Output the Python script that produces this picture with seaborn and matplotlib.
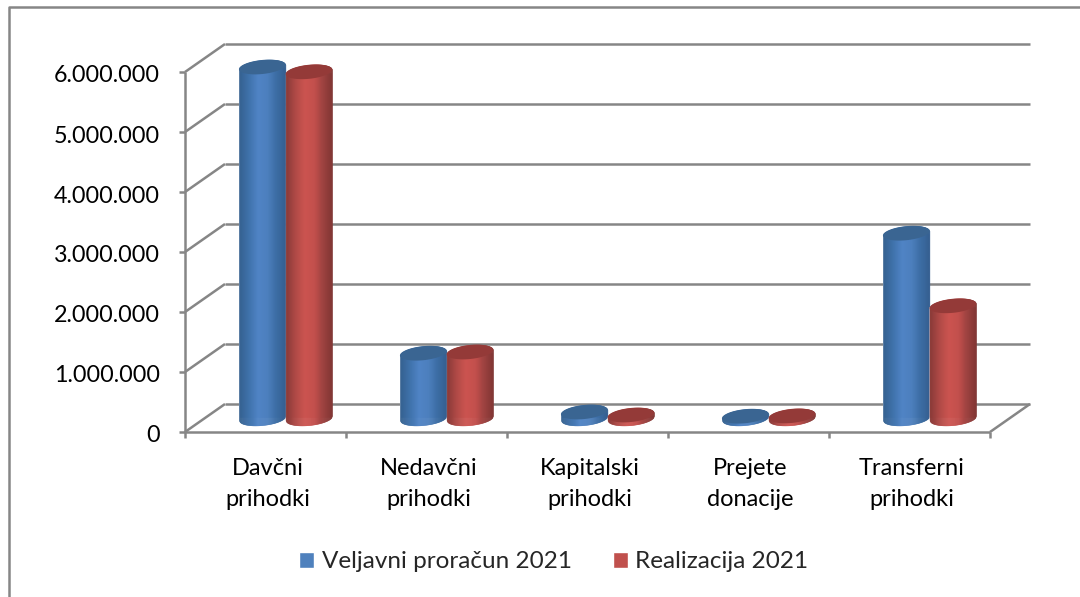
import numpy as np
import pandas as pd
import seaborn as sns
import matplotlib.pyplot as plt
from matplotlib.colors import LinearSegmentedColormap
from matplotlib.lines import Line2D
from matplotlib.patches import Polygon
from matplotlib.transforms import Affine2D, IdentityTransform

# Excel style 3D cylinder chart, faked with offsets on a normal barplot

categories = ["Davčni\nprihodki", "Nedavčni\nprihodki", "Kapitalski\nprihodki",
              "Prejete\ndonacije", "Transferni\nprihodki"]
proracun = [5850000, 1080000, 100000, 30000, 3080000]
realizacija = [5770000, 1100000, 50000, 35000, 1870000]
series = ["Veljavni proračun 2021", "Realizacija 2021"]
y_ticks = [0, 1000000, 2000000, 3000000, 4000000, 5000000, 6000000]
y_labels = ["0", "1.000.000", "2.000.000", "3.000.000", "4.000.000", "5.000.000", "6.000.000"]

df = pd.DataFrame({
    "kategorija": categories * 2,
    "serija": [series[0]] * 5 + [series[1]] * 5,
    "vrednost": proracun + realizacija,
})

W, H = 1080, 597
GRID = "#868686"
DEPTH_X, DEPTH_Y = 20, 14

sns.set_theme(style="white")
plt.rcParams["font.family"] = ["Lato", "DejaVu Sans"]

fig = plt.figure(figsize=(W / 100, H / 100), dpi=100)
# axes = middle plane of the 3D box, the cylinders stand on it
ax = fig.add_axes([205 / W, (H - 418) / H, 805 / W, 360 / H])
sns.barplot(data=df, x="kategorija", y="vrednost", hue="serija", palette=["#4f81bd", "#c0504d"],
            width=0.58, gap=0, saturation=1, ax=ax)
ax.set_xlim(-0.5, 4.5)
ax.set_ylim(0, 6000000)
ax.set_axis_off()
ax.patch.set_visible(False)

back = ax.transData + Affine2D().translate(DEPTH_X, DEPTH_Y)
front = ax.transData + Affine2D().translate(-DEPTH_X, -DEPTH_Y)

line = dict(color=GRID, lw=1.8, clip_on=False, zorder=1, solid_capstyle="butt")
for v, lab in zip(y_ticks, y_labels):
    ax.plot([-0.5, 4.5], [v, v], transform=back, **line)
    # side wall diagonal
    fx, fy = front.transform((-0.5, v))
    bx, by = back.transform((-0.5, v))
    ax.plot([fx, bx], [fy, by], transform=IdentityTransform(), **line)
    ax.plot([fx - 6, fx], [fy, fy], transform=IdentityTransform(), **line)
    ax.text(fx - 25, fy - 4, lab, transform=IdentityTransform(), ha="right",
            va="center", fontsize=16.8, color="black")

# front axis and floor
ax.plot([-0.5, -0.5], [0, 6000000], transform=front, **line)
ax.plot([-0.5, 4.5], [0, 0], transform=front, **line)
fx, fy = front.transform((4.5, 0))
bx, by = back.transform((4.5, 0))
ax.plot([fx, bx], [fy, by], transform=IdentityTransform(), **line)
for i in range(6):
    fx, fy = front.transform((i - 0.5, 0))
    ax.plot([fx, fx], [fy, fy - 6], transform=IdentityTransform(), **line)
for i, c in enumerate(categories):
    fx, fy = front.transform((i, 0))
    ax.text(fx + 2, fy - 26, c, transform=IdentityTransform(), ha="center", va="top",
            fontsize=17, color="black", linespacing=1.6)

blue_cmap = LinearSegmentedColormap.from_list("b", ["#34608f", "#3f72ab", "#5084c6", "#4c7fbd", "#3c6da4", "#355f90"])
red_cmap = LinearSegmentedColormap.from_list("r", ["#8a3a38", "#b04a47", "#cc5450", "#c4504d", "#9c4240", "#7d3432"])


def ring(cx, cy, w, tilt=6, ratio=0.3):
    t = np.radians(tilt)
    a = np.linspace(0, 2 * np.pi, 81)
    ex, ey = w / 2 * np.cos(a), w / 2 * ratio * np.sin(a)
    return np.column_stack([cx + ex * np.cos(t) - ey * np.sin(t), cy + ex * np.sin(t) + ey * np.cos(t)])


z = 3
blue_bars = list(ax.containers[0])
bars = [b for cont in ax.containers for b in cont]
bars.sort(key=lambda b: b.get_x())
for b in bars:
    is_blue = b in blue_bars
    cmap = blue_cmap if is_blue else red_cmap
    top_color = "#3a6592" if is_blue else "#943a38"
    (x0, y0) = ax.transData.transform((b.get_x(), 0))
    (x1, y1) = ax.transData.transform((b.get_x() + b.get_width(), b.get_height()))
    cx = (x0 + x1) / 2
    w = x1 - x0
    top = ring(cx, y1, w)
    base = ring(cx, y0, w)
    # the rectangle from seaborn only keeps the shape of the side of the cylinder
    b.set_clip_path(Polygon(np.vstack([top[:41], base[40:]]), closed=True, transform=IdentityTransform()))
    b.set_zorder(z)
    # shading as thin vertical strips between base rim and top rim
    up = top[:41][::-1]
    low = base[40:]
    edges = np.linspace(up[:, 0].min(), up[:, 0].max(), 49)
    for e0, e1 in zip(edges[:-1], edges[1:]):
        xs = np.array([e0, e1])
        ax.fill_between(xs, np.interp(xs, low[:, 0], low[:, 1]), np.interp(xs, up[:, 0], up[:, 1]),
                        transform=IdentityTransform(), color=cmap((e0 - edges[0]) / (edges[-1] - edges[0])),
                        lw=0.4, clip_on=False, zorder=z + 0.1)
    ax.add_patch(Polygon(top, closed=True, transform=IdentityTransform(), facecolor=top_color,
                         edgecolor="none", zorder=z + 0.2, clip_on=False))
    z += 1

ax.set_xlim(-0.5, 4.5)
ax.set_ylim(0, 6000000)

handles, labels = ax.get_legend_handles_labels()
ax.get_legend().remove()
fig.legend(handles, labels, loc="center", bbox_to_anchor=(554 / W, (H - 562) / H), ncol=2, frameon=False,
           fontsize=17.5, handlelength=0.62, handleheight=0.62, handletextpad=0.3, columnspacing=1.7)

# chart border, only left and top fall inside the picture
fig.add_artist(Line2D([9 / W, 9 / W, 1], [0, (H - 7) / H, (H - 7) / H], transform=fig.transFigure,
                      color=GRID, lw=1.8))

fig.savefig("out.png", dpi=100)
